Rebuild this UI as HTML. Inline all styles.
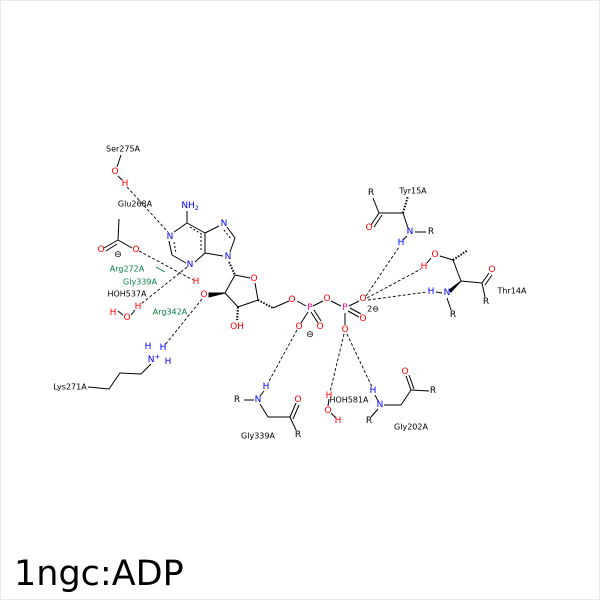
<!DOCTYPE html>
<html><head><style>body{margin:0;background:#fff}svg{display:block}</style></head>
<body>
<svg width="600" height="600" viewBox="0 0 600 600" xmlns="http://www.w3.org/2000/svg" font-family="DejaVu Sans, Liberation Sans, sans-serif">
<rect x="0.5" y="0.5" width="599" height="599" fill="#fff" stroke="#e8e8e8"/>
<g stroke="#000" stroke-width="1" fill="none">
<!-- Ser -->
<line x1="117" y1="167" x2="121" y2="155"/>
<line x1="118" y1="176" x2="122" y2="180"/>
<!-- Glu -->
<line x1="119" y1="219" x2="118" y2="240"/>
<line x1="118" y1="240" x2="104" y2="248"/>
<line x1="117" y1="244" x2="106" y2="251"/>
<line x1="118" y1="240" x2="132" y2="248"/>
<!-- adenine -->
<line x1="187" y1="223" x2="187" y2="211"/>
<line x1="187" y1="223" x2="205" y2="233"/>
<line x1="190" y1="227" x2="203" y2="235" stroke-dasharray="2,2"/>
<line x1="187" y1="223" x2="174" y2="232"/>
<line x1="169" y1="241" x2="172" y2="255"/>
<line x1="174" y1="242" x2="176" y2="253" stroke-dasharray="2,2"/>
<line x1="172" y1="255" x2="186" y2="263"/>
<line x1="195" y1="262" x2="205" y2="253"/>
<line x1="205" y1="253" x2="205" y2="233"/>
<line x1="201" y1="250" x2="201" y2="236" stroke-dasharray="2,2"/>
<line x1="205" y1="233" x2="219" y2="226"/>
<line x1="227" y1="227" x2="235" y2="238"/>
<line x1="224" y1="230" x2="231" y2="239" stroke-dasharray="2,2"/>
<line x1="235" y1="238" x2="230" y2="252"/>
<line x1="223" y1="256" x2="205" y2="253"/>
<!-- ribose -->
<line x1="229" y1="262" x2="235" y2="275" stroke-dasharray="1.5,1.5" stroke-width="2"/>
<line x1="235" y1="275" x2="250" y2="278"/>
<line x1="255" y1="283" x2="258" y2="300"/>
<line x1="258" y1="300" x2="238" y2="307"/>
<line x1="238" y1="307" x2="225" y2="293"/>
<line x1="225" y1="293" x2="235" y2="275"/>
<line x1="238" y1="307" x2="237" y2="320" stroke-dasharray="1.5,1.5" stroke-width="2"/>
<line x1="258" y1="300" x2="273" y2="308" stroke-dasharray="1.5,1.5" stroke-width="2"/>
<line x1="273" y1="308" x2="289" y2="301"/>
<line x1="297" y1="301" x2="306" y2="306"/>
<line x1="313" y1="306" x2="323" y2="301"/>
<line x1="331" y1="301" x2="341" y2="306"/>
<line x1="349" y1="306" x2="359" y2="301"/>
<line x1="308" y1="312" x2="301" y2="323"/>
<line x1="311" y1="312" x2="318" y2="323"/><line x1="314" y1="310" x2="321" y2="321"/>
<line x1="345" y1="313" x2="345" y2="325"/>
<line x1="348" y1="311" x2="359" y2="317"/><line x1="350" y1="308" x2="361" y2="314"/>
<!-- Tyr15 -->
<line x1="373" y1="198" x2="379" y2="213"/>
<line x1="379" y1="213" x2="371" y2="225"/><line x1="382" y1="215" x2="374" y2="227"/>
<line x1="379" y1="213" x2="403" y2="213"/>
<line x1="403" y1="213" x2="408" y2="228"/>
<line x1="415" y1="232" x2="426" y2="232"/>
<line x1="407" y1="236" x2="403" y2="240"/>
<line x1="403" y1="213" x2="408" y2="196" stroke-dasharray="1.5,1.5" stroke-width="2"/>
<!-- Thr14 -->
<line x1="440" y1="256" x2="453" y2="260"/>
<line x1="431" y1="258" x2="427" y2="263"/>
<line x1="442" y1="293" x2="436" y2="292"/>
<line x1="453" y1="260" x2="468" y2="250" stroke-dasharray="1.5,1.5" stroke-width="2"/>
<line x1="453" y1="260" x2="461" y2="281"/>
<line x1="461" y1="281" x2="482" y2="283"/>
<line x1="482" y1="283" x2="489" y2="273"/><line x1="485" y1="285" x2="492" y2="275"/>
<line x1="482" y1="283" x2="485" y2="297"/>
<line x1="447" y1="298" x2="451" y2="310"/>
<polygon points="461,281 449,290 451,292" fill="#000"/>
<polygon points="225,293 209,293 209,297" fill="#000"/>
<!-- Lys -->
<polyline points="88,387 109,389 120,373 141,374 151,364"/>
<!-- Gly339 -->
<line x1="244" y1="400" x2="254" y2="400"/>
<line x1="260" y1="396" x2="264" y2="391"/>
<line x1="260" y1="404" x2="268" y2="417"/>
<line x1="268" y1="417" x2="290" y2="417"/>
<line x1="290" y1="417" x2="296" y2="403"/><line x1="293" y1="419" x2="299" y2="405"/>
<line x1="290" y1="417" x2="296" y2="430"/>
<!-- HOH581 -->
<line x1="329" y1="399" x2="328" y2="406"/>
<line x1="331" y1="413" x2="336" y2="418"/>
<!-- Gly202 -->
<line x1="378" y1="409" x2="371" y2="417"/>
<line x1="378" y1="401" x2="375" y2="395"/>
<line x1="384" y1="405" x2="401" y2="405"/>
<line x1="401" y1="405" x2="411" y2="390"/>
<line x1="411" y1="390" x2="406" y2="376"/><line x1="414" y1="389" x2="409" y2="375"/>
<line x1="411" y1="390" x2="429" y2="391"/>
<!-- Arg272 short -->
<line x1="156" y1="267" x2="165" y2="272" stroke="#008040"/>
<line x1="118" y1="311" x2="123" y2="315"/>
<line x1="131" y1="315" x2="135" y2="310"/>
</g>
<g stroke="#000" stroke-width="0.9" stroke-dasharray="3,2" fill="none">
<line x1="127" y1="187" x2="168" y2="232"/>
<line x1="139" y1="251" x2="193" y2="280"/>
<line x1="187" y1="267" x2="141" y2="304"/>
<line x1="202" y1="299" x2="165" y2="345"/>
<line x1="297" y1="330" x2="268" y2="383"/>
<line x1="344" y1="334" x2="330" y2="392"/>
<line x1="347" y1="334" x2="372" y2="387"/>
<line x1="366" y1="296" x2="399" y2="247"/>
<line x1="367" y1="298" x2="421" y2="269"/>
<line x1="368" y1="300" x2="427" y2="292"/>
</g>
<g font-size="8" text-anchor="middle" dominant-baseline="central">
<text x="123" y="149">Ser275A</text>
<text x="135" y="204">Glu268A</text>
<text x="413" y="191">Tyr15A</text>
<text x="512" y="291">Thr14A</text>
<text x="70" y="387">Lys271A</text>
<text x="258" y="436">Gly339A</text>
<text x="349" y="400">HOH581A</text>
<text x="411" y="427">Gly202A</text>
<text x="127" y="294">HOH537A</text>
<g fill="#008040"><text x="127" y="269">Arg272A</text><text x="140" y="282">Gly339A</text><text x="170" y="312">Arg342A</text></g>
<g font-size="9">
<text x="371" y="193">R</text><text x="431" y="232">R</text><text x="453" y="315">R</text><text x="486" y="302">R</text>
<text x="237" y="400">R</text><text x="298" y="435">R</text><text x="369" y="421">R</text><text x="433" y="391">R</text>
<text x="118" y="255">⊖</text><text x="310" y="335">⊖</text><text x="373" y="309" font-size="8">2⊖</text>
<g fill="#0000ff">
<text x="190" y="206">NH<tspan font-size="6" dy="2">2</tspan></text>
<text x="170" y="237">N</text><text x="190" y="265">N</text><text x="224" y="224">N</text><text x="228" y="257">N</text>
<text x="410" y="232">N</text><text x="401" y="243">H</text><text x="447" y="293">N</text><text x="431" y="292">H</text>
<text x="154" y="360">N<tspan font-size="7" dy="-3">+</tspan></text><text x="148" y="347">H</text><text x="163" y="348">H</text><text x="168" y="362">H</text>
<text x="258" y="400">N</text><text x="266" y="387">H</text>
<text x="380" y="405">N</text><text x="373" y="391">H</text>
</g>
<g fill="#ff0000">
<text x="115" y="172">O</text><text x="125" y="184">H</text>
<text x="101" y="250">O</text><text x="136" y="250">O</text>
<text x="196" y="282">H</text><text x="204" y="295">O</text>
<text x="138" y="307">H</text><text x="113" y="313">H</text><text x="127" y="318">O</text>
<text x="254" y="279">O</text><text x="237" y="327">OH</text>
<text x="292" y="300">O</text><text x="327" y="299">O</text><text x="363" y="299">O</text>
<text x="299" y="327">O</text><text x="320" y="327">O</text><text x="363" y="319">O</text><text x="345" y="330">O</text>
<text x="369" y="228">O</text><text x="435" y="255">O</text><text x="424" y="267">H</text><text x="492" y="270">O</text>
<text x="298" y="400">O</text>
<text x="329" y="396">H</text><text x="328" y="411">O</text><text x="338" y="421">H</text>
<text x="405" y="372">O</text>
</g>
<g fill="#ff00a0"><text x="310" y="308">P</text><text x="345" y="308">P</text></g>
</g>
</g>
<text x="14" y="585" font-size="35" font-family="DejaVu Sans, sans-serif">1ngc:ADP</text>
</svg>
</body></html>
